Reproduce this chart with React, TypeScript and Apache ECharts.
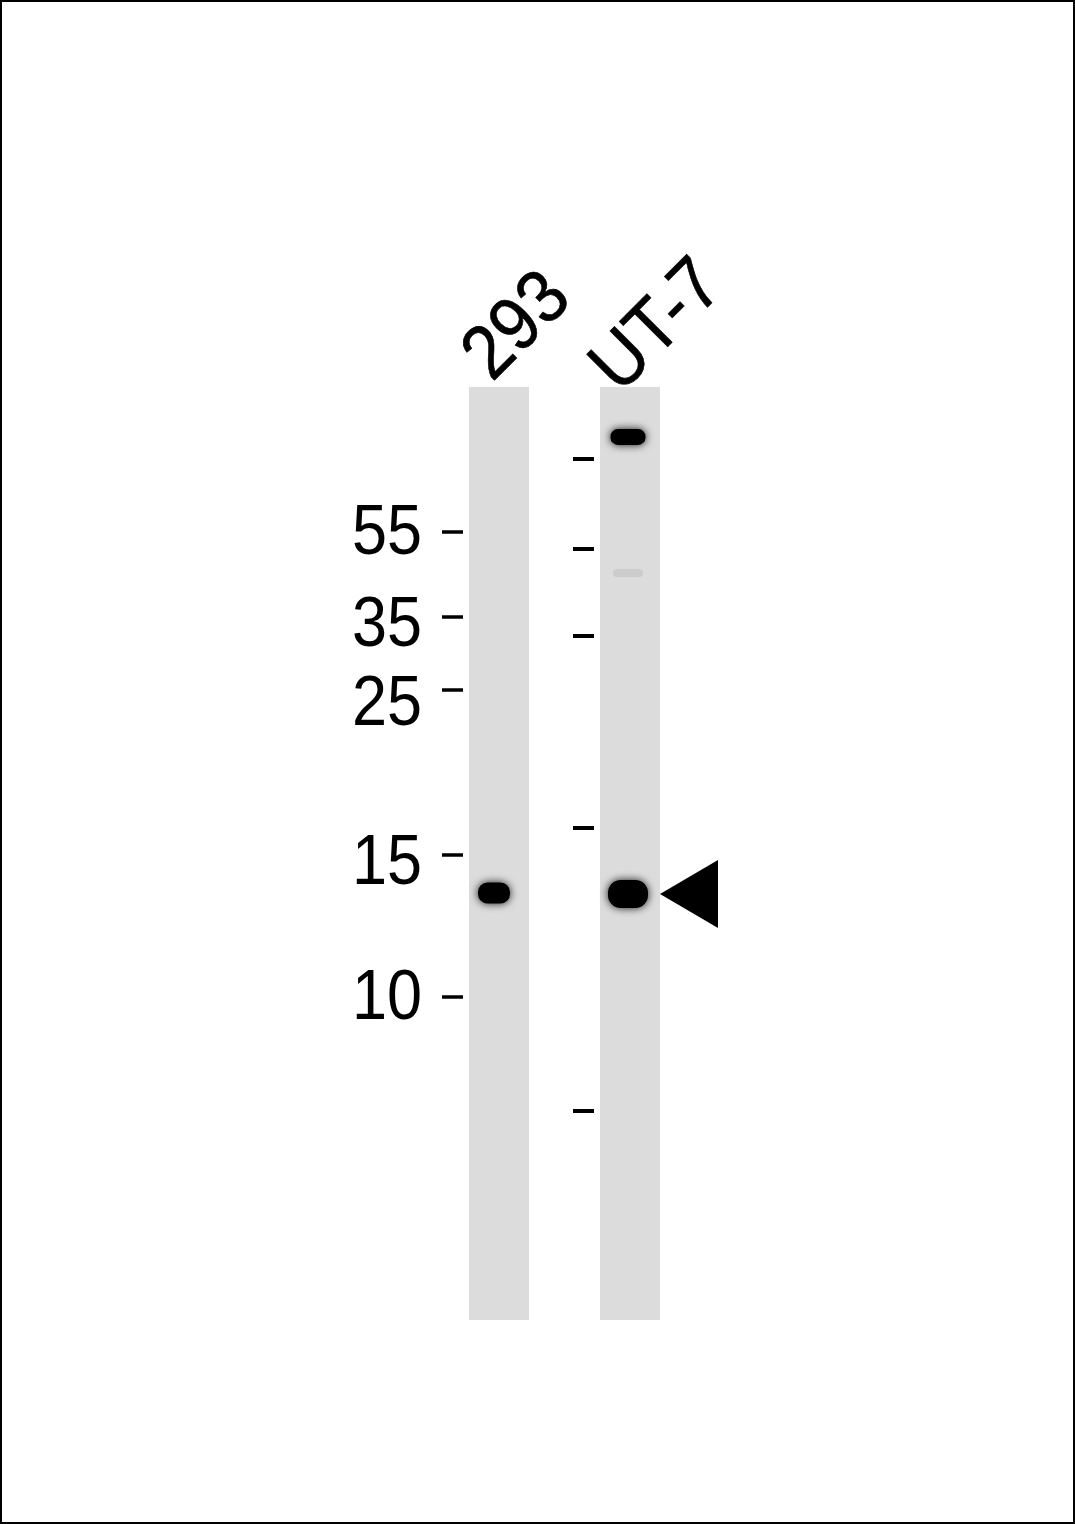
import React, { useEffect, useRef } from "react";
import * as echarts from "echarts";

// ---- data (blot coordinates: x = horizontal position, y = migration distance) ----
const laneNames = ["293", "UT-7"];
const laneCenters = [499, 630];
const laneTop = 387;
const laneBottom = 1320;

const markerLabels = ["55", "35", "25", "15", "10"];
const markerTickY = [532, 617, 690, 855, 997];
const markerLabelY = [530, 622, 701, 860, 995];

const rightTickY = [459, 549, 636, 828, 1111];

const bandLane = [0, 1, 1, 1];
const bandY = [893, 894, 437, 573];
const bandIntensity = [1, 1, 1, 0.07];
const bandSpan = [32, 40, 35, 30];
const bandThick = [21, 28, 16, 8];

const arrowBandY = 894;

const FONT = "'Liberation Sans', Arial, sans-serif";

export default function App() {
  const ref = useRef<HTMLDivElement>(null);
  useEffect(() => {
    if (!ref.current) return;
    const chart = echarts.init(ref.current, null, { renderer: "svg" });
    const option: any = {
      animation: false,
      backgroundColor: "#ffffff",
      grid: { left: 0, right: 0, top: 0, bottom: 0 },
      xAxis: { type: "value", min: 0, max: 1075, show: false },
      yAxis: { type: "value", min: 0, max: 1524, inverse: true, show: false },
      graphic: [
        {
          type: "rect",
          shape: { x: 1, y: 1, width: 1073, height: 1522 },
          style: { fill: "none", stroke: "#000", lineWidth: 2 },
          silent: true,
          z: 100,
        },
      ],
      series: [
        {
          type: "custom",
          name: "lanes",
          data: laneCenters.map((c, i) => [c, i]),
          renderItem: (params: any, api: any) => {
            const c = api.value(0);
            const p0 = api.coord([c - 30, laneTop]);
            const p1 = api.coord([c + 30, laneBottom]);
            return {
              type: "rect",
              shape: { x: p0[0], y: p0[1], width: p1[0] - p0[0], height: p1[1] - p0[1] },
              style: { fill: "#dcdcdc" },
            };
          },
          z: 1,
        },
        {
          type: "custom",
          name: "laneLabels",
          data: laneNames.map((n, i) => [laneCenters[i], i]),
          renderItem: (params: any, api: any) => {
            const i = api.value(1);
            const p = api.coord([api.value(0) + (i === 0 ? 15 : 24), laneTop - 64]);
            return {
              type: "text",
              x: p[0],
              y: p[1],
              rotation: Math.PI / 4,
              scaleX: 0.95,
              scaleY: 1.04,
              style: {
                text: laneNames[i],
                fontSize: 73,
                fontFamily: FONT,
                fill: "#000",
                stroke: "#000",
                lineWidth: 0.6,
                align: "center",
                verticalAlign: "middle",
              },
            };
          },
          z: 5,
        },
        {
          type: "custom",
          name: "markers",
          data: markerTickY.map((y, i) => [i, y]),
          renderItem: (params: any, api: any) => {
            const i = api.value(0);
            const a = api.coord([442, api.value(1)]);
            const b = api.coord([463, api.value(1)]);
            const t = api.coord([422, markerLabelY[i]]);
            return {
              type: "group",
              children: [
                {
                  type: "line",
                  shape: { x1: a[0], y1: a[1], x2: b[0], y2: b[1] },
                  style: { stroke: "#000", lineWidth: 3.5 },
                },
                {
                  type: "text",
                  x: t[0],
                  y: t[1],
                  scaleX: 0.9,
                  scaleY: 1,
                  style: {
                    text: markerLabels[i],
                    fontSize: 70,
                    fontFamily: FONT,
                    fill: "#000",
                    align: "right",
                    verticalAlign: "middle",
                  },
                },
              ],
            };
          },
          z: 5,
        },
        {
          type: "custom",
          name: "rightTicks",
          data: rightTickY.map((y, i) => [i, y]),
          renderItem: (params: any, api: any) => {
            const a = api.coord([573, api.value(1)]);
            const b = api.coord([594, api.value(1)]);
            return {
              type: "line",
              shape: { x1: a[0], y1: a[1], x2: b[0], y2: b[1] },
              style: { stroke: "#000", lineWidth: 4 },
            };
          },
          z: 5,
        },
        {
          type: "custom",
          name: "bands",
          data: bandY.map((y, i) => [laneCenters[bandLane[i]] - (bandLane[i] === 0 ? 5 : 2), y, bandIntensity[i], bandSpan[i], bandThick[i]]),
          renderItem: (params: any, api: any) => {
            const cx = api.value(0);
            const cy = api.value(1);
            const inten = api.value(2);
            const w = api.value(3);
            const h = api.value(4);
            const p0 = api.coord([cx - w / 2, cy - h / 2]);
            const p1 = api.coord([cx + w / 2, cy + h / 2]);
            const strong = inten > 0.5;
            return {
              type: "rect",
              shape: {
                x: p0[0],
                y: p0[1],
                width: p1[0] - p0[0],
                height: p1[1] - p0[1],
                r: (p1[1] - p0[1]) / 2.2,
              },
              style: {
                fill: strong ? "#050505" : "rgba(0,0,0," + inten + ")",
                shadowBlur: strong ? 9 : 6,
                shadowColor: strong ? "rgba(0,0,0,0.9)" : "rgba(0,0,0,0.08)",
              },
            };
          },
          z: 3,
        },
        {
          type: "custom",
          name: "arrow",
          data: [[660, arrowBandY]],
          renderItem: (params: any, api: any) => {
            const x = api.value(0);
            const y = api.value(1);
            const tip = api.coord([x, y]);
            const top = api.coord([x + 58, y - 34]);
            const bot = api.coord([x + 58, y + 34]);
            return {
              type: "polygon",
              shape: { points: [tip, top, bot] },
              style: { fill: "#000" },
            };
          },
          z: 5,
        },
      ],
    };
    chart.setOption(option);
    return () => chart.dispose();
  }, []);
  return (
    <div
      ref={ref}
      style={{ position: "fixed", left: 0, top: 0, width: 1075, height: 1524, background: "#fff" }}
    />
  );
}
